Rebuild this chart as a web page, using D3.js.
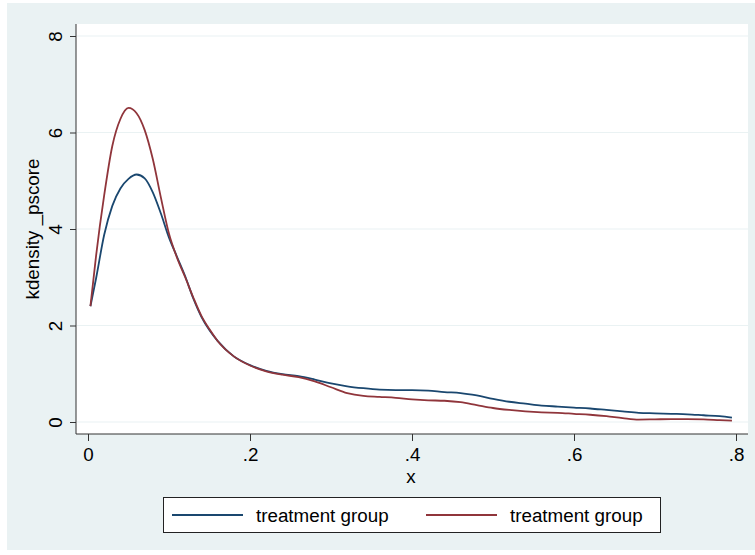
<!DOCTYPE html>
<html>
<head>
<meta charset="utf-8">
<script src="https://cdn.jsdelivr.net/npm/d3@7"></script>
<style>
    body { margin: 0; background: #fff; }
    svg text { font-family: "Liberation Sans", Arial, sans-serif; fill: #000; }
</style>
</head>
<body>
<svg></svg>
<script>
// kernel density of _pscore, two groups
var xs = [0.003, 0.01, 0.02, 0.03, 0.04, 0.05, 0.06, 0.07, 0.08, 0.09, 0.10, 0.11, 0.12, 0.13, 0.14,
    0.15, 0.16, 0.18, 0.20, 0.22, 0.24, 0.26, 0.28, 0.30, 0.32, 0.34, 0.36, 0.38, 0.40, 0.42, 0.44,
    0.46, 0.48, 0.50, 0.52, 0.54, 0.56, 0.58, 0.60, 0.62, 0.64, 0.66, 0.68, 0.70, 0.72, 0.74, 0.76,
    0.78, 0.795];
var blueDensity = [2.40, 2.98, 3.88, 4.48, 4.84, 5.04, 5.13, 5.05, 4.76, 4.32, 3.82, 3.42, 3.02, 2.56, 2.18,
    1.90, 1.68, 1.36, 1.18, 1.06, 0.99, 0.95, 0.88, 0.80, 0.74, 0.70, 0.67, 0.66, 0.66, 0.65, 0.62,
    0.60, 0.55, 0.48, 0.42, 0.38, 0.34, 0.32, 0.30, 0.28, 0.25, 0.22, 0.19, 0.18, 0.17, 0.16, 0.14,
    0.12, 0.09];
var redDensity = [2.40, 3.45, 4.70, 5.72, 6.28, 6.51, 6.40, 6.05, 5.45, 4.65, 3.90, 3.40, 3.00, 2.58, 2.20,
    1.92, 1.68, 1.36, 1.17, 1.05, 0.98, 0.93, 0.84, 0.72, 0.60, 0.54, 0.52, 0.50, 0.47, 0.45, 0.44,
    0.41, 0.35, 0.29, 0.25, 0.22, 0.20, 0.19, 0.17, 0.15, 0.12, 0.08, 0.05, 0.055, 0.06, 0.06, 0.055,
    0.04, 0.03];
var xTicks = [0, 0.2, 0.4, 0.6, 0.8];
var xTickLabels = ["0", ".2", ".4", ".6", ".8"];
var yTicks = [0, 2, 4, 6, 8];
var seriesNames = ["treatment group", "treatment group"];
var seriesColors = ["#1a476f", "#90353b"];

var svg = d3.select("svg")
        .attr("width", 755)
        .attr("height", 555),
    plot = {left: 76, top: 24, right: 748, bottom: 434},
    fontSize = "18.8px";

// outer stata-ish background
svg.append("rect")
    .attr("x", 7).attr("y", 3)
    .attr("width", 748).attr("height", 547)
    .attr("fill", "#eaf2f3");

svg.append("rect")
    .attr("x", plot.left).attr("y", plot.top)
    .attr("width", plot.right - plot.left)
    .attr("height", plot.bottom - plot.top)
    .attr("fill", "#fff");

var x = d3.scaleLinear().domain([0, 0.8]).range([88, 736]),
    y = d3.scaleLinear().domain([0, 8]).range([422, 36]);

// gridlines
svg.append("g")
    .selectAll("line")
    .data(yTicks)
    .enter().append("line")
    .attr("x1", plot.left + 1)
    .attr("x2", plot.right)
    .attr("y1", function (d) { return y(d); })
    .attr("y2", function (d) { return y(d); })
    .attr("stroke", "#eaf2f3")
    .attr("stroke-width", 1.2);

// axes
var yAxis = svg.append("g")
    .attr("transform", "translate(" + plot.left + ",0)")
    .call(d3.axisLeft(y).tickValues(yTicks).tickSize(6).tickPadding(0).tickFormat(d3.format("d")));
yAxis.select(".domain").attr("d", "M0," + plot.top + "V" + plot.bottom).attr("stroke", "#333");
yAxis.selectAll(".tick line").attr("stroke", "#333");
yAxis.selectAll(".tick text")
    .attr("x", null).attr("dy", null)
    .attr("transform", "translate(-21,0) rotate(-90)")
    .attr("text-anchor", "middle")
    .attr("dominant-baseline", "central")
    .style("font-size", fontSize);

var xAxis = svg.append("g")
    .attr("transform", "translate(0," + plot.bottom + ")")
    .call(d3.axisBottom(x).tickValues(xTicks).tickSize(7).tickPadding(7)
        .tickFormat(function (d, i) { return xTickLabels[i]; }));
xAxis.select(".domain").attr("d", "M" + plot.left + ",0H" + plot.right).attr("stroke", "#333");
xAxis.selectAll(".tick line").attr("stroke", "#333");
xAxis.selectAll(".tick text").style("font-size", fontSize);

svg.append("text")
    .attr("transform", "translate(39,229) rotate(-90)")
    .attr("text-anchor", "middle")
    .style("font-size", fontSize)
    .text("kdensity _pscore");

svg.append("text")
    .attr("x", 411)
    .attr("y", 483)
    .attr("text-anchor", "middle")
    .style("font-size", fontSize)
    .text("x");

// density lines
var series = [blueDensity, redDensity];
var line = d3.line()
    .x(function (d, i) { return x(xs[i]); })
    .y(function (d) { return y(d); })
    .curve(d3.curveMonotoneX);

svg.append("g")
    .selectAll("path")
    .data(series)
    .enter().append("path")
    .attr("d", line)
    .attr("fill", "none")
    .attr("stroke", function (d, i) { return seriesColors[i]; })
    .attr("stroke-width", 1.8);

// legend
var legend = svg.append("g");
legend.append("rect")
    .attr("x", 163.5).attr("y", 497.5)
    .attr("width", 497).attr("height", 35)
    .attr("fill", "#fff")
    .attr("stroke", "#222")
    .attr("stroke-width", 1);

var items = legend.selectAll(".item")
    .data(seriesNames)
    .enter().append("g")
    .attr("class", "item")
    .attr("transform", function (d, i) { return "translate(" + (172 + i * 254) + ",515)"; });
items.append("line")
    .attr("x1", 0).attr("x2", 71)
    .attr("stroke", function (d, i) { return seriesColors[i]; })
    .attr("stroke-width", 1.8);
items.append("text")
    .attr("x", 84)
    .attr("dy", "0.35em")
    .style("font-size", fontSize)
    .text(function (d) { return d; });
</script>
</body>
</html>
